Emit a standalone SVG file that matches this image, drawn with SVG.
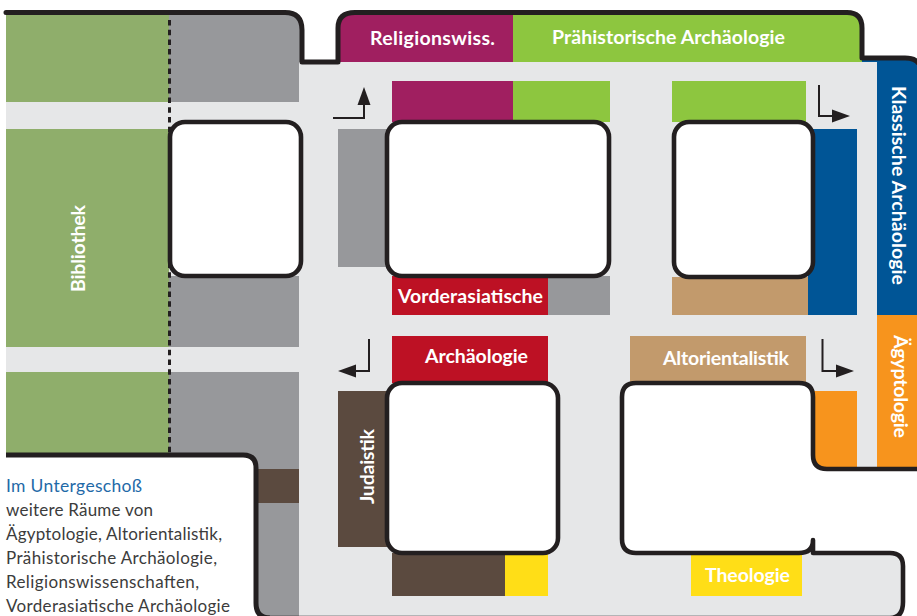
<svg xmlns="http://www.w3.org/2000/svg" width="917" height="616" viewBox="0 0 917 616">
<style>
.lbl{font-family:"Lato","Noto Sans",sans-serif;font-weight:700;font-size:19.5px;fill:#fff}
.note{font-family:"Lato","Noto Sans",sans-serif;font-size:17px;fill:#3c3c3c}
.ol{fill:none;stroke:#231f20;stroke-width:5;stroke-linejoin:round;stroke-linecap:round}
.room{fill:#fff;stroke:#231f20;stroke-width:4.6}
.thin{fill:none;stroke:#231f20;stroke-width:2}
.head{fill:#231f20}
</style>
<rect width="917" height="616" fill="#fff"/>
<path id="floor" fill="#e6e7e8" d="M6,62H917V469H827Q813,469 813,455V553H890Q903,553 903,566V602Q903,616 890,616H268Q256,616 256,603V455H6Z"/>
<g id="bibliothek"><path fill="#8fae6b" d="M6,12H169V102H6ZM6,129H169V347H6ZM6,372H169V456H6Z"/><text class="lbl" transform="translate(85,292) rotate(-90)" textLength="87">Bibliothek</text></g>
<g id="grau"><path fill="#97989b" d="M169,12H285Q302,12 302,30V62H299V102H169ZM169,276H299V347H169ZM169,372H299V616H169ZM338,129H392V267H338ZM548,276H610V315H548Z"/></g>
<g id="religionswiss"><path fill="#a01f60" d="M339,62V28Q339,12 355,12H513V62ZM392,81H513V122H392Z"/><text class="lbl" x="370" y="45" textLength="125">Religionswiss.</text></g>
<g id="praehistorische"><path fill="#8dc63f" d="M513,12H847Q862,12 862,28V62H513ZM513,81H610V122H513ZM672,81H806V122H672Z"/><text class="lbl" x="552" y="44" textLength="233">Prähistorische Archäologie</text></g>
<g id="klassische"><path fill="#005596" d="M862,58H905Q917,58 917,66V315H877V62H862ZM808,129H857V315H808Z"/><text class="lbl" transform="translate(892,86) rotate(90)" textLength="199">Klassische Archäologie</text></g>
<g id="vorderasiatische"><rect x="392" y="276" width="156" height="39" fill="#bd1124"/><text class="lbl" x="398" y="303" textLength="145">Vorderasiatische</text></g>
<g id="archaeologie"><rect x="392" y="336" width="156" height="47" fill="#bd1124"/><text class="lbl" x="425" y="363" textLength="103">Archäologie</text></g>
<g id="altorientalistik"><path fill="#c29a6c" d="M630,336H806V383H630ZM672,277H808V315H672Z"/><text class="lbl" x="663" y="365" textLength="126">Altorientalistik</text></g>
<g id="aegyptologie"><path fill="#f7941d" d="M877,315H917V469H877ZM813,391H857V469H827Q813,469 813,455Z"/><text class="lbl" transform="translate(894,335) rotate(90)" textLength="103">Ägyptologie</text></g>
<g id="judaistik"><path fill="#5b4a3f" d="M338,391H392V547H338ZM392,553H505V596H392ZM256,469H299V503H256Z"/><text class="lbl" transform="translate(374,504) rotate(-90)" textLength="75">Judaistik</text></g>
<g id="theologie"><path fill="#ffde17" d="M505,553H548V596H505ZM691,553H802V596H691Z"/><text class="lbl" x="705" y="582" textLength="85">Theologie</text></g>
<g id="connectors">
<line x1="169.500" y1="20" x2="169.500" y2="456" stroke="#231f20" stroke-width="3" stroke-dasharray="5.500 4.200"/>
<path class="thin" d="M333,118H364V104"/><path class="head" d="M364,87L370.500,105H357.500Z"/>
<path class="thin" d="M819,85V116H833"/><path class="head" d="M850,116L832,109.500V122.500Z"/>
<path class="thin" d="M369,339V371H355"/><path class="head" d="M338,371L356,364.500V377.500Z"/>
<path class="thin" d="M822.500,339V371H837"/><path class="head" d="M854,371L836,364.500V377.500Z"/>
</g>
<path id="outline" class="ol" d="M6,12.500H285Q302,12.500 302,30V62H338V28Q338,12.500 355,12.500H847Q862,12.500 862,28V58H905Q917,58 920,66"/>
<g id="room-1"><rect class="room" x="170" y="122" width="131" height="154" rx="15"/></g>
<g id="room-2"><rect class="room" x="387" y="122" width="222" height="154" rx="15"/></g>
<g id="room-3"><rect class="room" x="674" y="122" width="139" height="155" rx="15"/></g>
<g id="room-5"><rect class="room" x="387" y="383" width="171" height="170" rx="15"/></g>
<g id="room-4"><rect x="622" y="383" width="191" height="170" rx="14" fill="#fff"/>
<path class="ol" style="stroke-width:4.600" d="M917,469H827Q813,469 813,455V397Q813,383 799,383H636Q622,383 622,397V539Q622,553 636,553H799Q813,553 813,540V553H890Q903,553 903,566V602Q903,618 890,618H268"/></g>
<g id="note"><path fill="#fff" d="M6,455H243Q256,455 256,468V604Q256,616 268,616H6Z"/>
<path class="ol" style="stroke-linecap:butt" d="M6,455H243Q256,455 256,468V603Q256,618 270,618"/>
<text class="note" x="6" y="492" style="fill:#1f6aa8;font-size:17.500px" textLength="136">Im Untergeschoß</text>
<text class="note" x="6" y="516" textLength="147">weitere Räume von</text>
<text class="note" x="6" y="540" textLength="216">Ägyptologie, Altorientalistik,</text>
<text class="note" x="6" y="564" textLength="211">Prähistorische Archäologie,</text>
<text class="note" x="6" y="588" textLength="193">Religionswissenschaften,</text>
<text class="note" x="6" y="612" textLength="224">Vorderasiatische Archäologie</text>
</g>
</svg>
